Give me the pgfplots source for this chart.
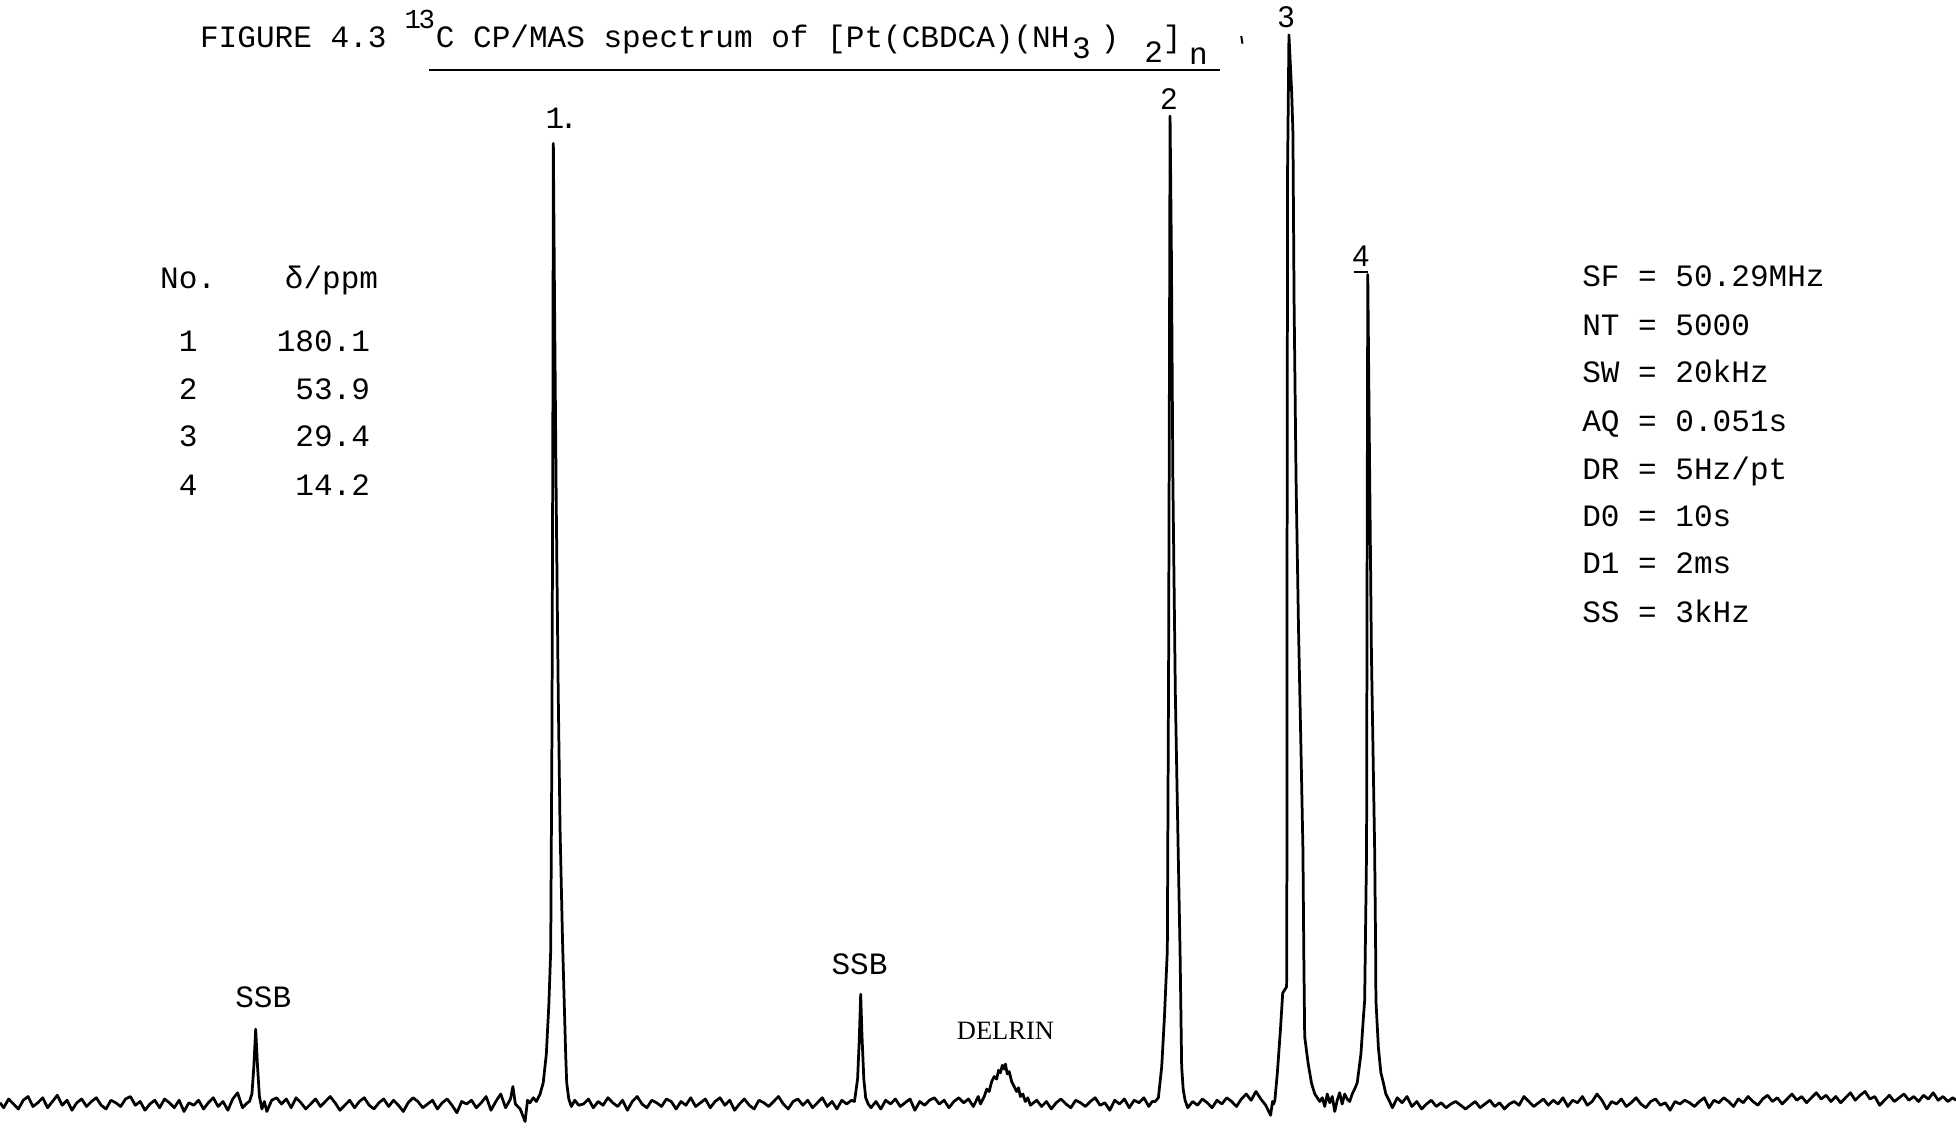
\documentclass[border=0pt]{standalone}
\usepackage{pgfplots}
\pgfplotsset{compat=1.18}
\usepackage{fontspec}
\setmainfont{Liberation Mono}
\newfontfamily\serfont{Liberation Serif}
\newfontfamily\sansfont{Liberation Sans}
\newcommand\tw{\fontsize{12.45}{15}\selectfont}
\newcommand\pl{\sansfont\fontsize{12}{14}\selectfont}
\begin{document}
\begin{tikzpicture}
\path[use as bounding box] (0,0) rectangle (784pt,455.5pt);
\begin{axis}[at={(0,0)}, anchor=south west, scale only axis,
  width=784pt, height=455.5pt,
  xmin=-107.67, xmax=293.77, ymin=-26, ymax=885,
  x dir=reverse, hide axis, clip=false]
\addplot[black, line width=1.1pt, line join=round] coordinates {
(293.77,1)(293,-3)(292,4)(291,0)(290,-4)(289,3)(288,6)(287,-2)(286,1)(285,5)(284,-3)(283,2)(282,7)(281,-1)(280,3)(279,-5)(278,1)(277,4)(276,-2)(275,2)(274,5)(273,-1)(272,-4)(271,3)(270,1)(269,-2)(268,4)(267,6)(266,-1)(265,2)(264,-5)(263,0)(262,3)(261,-3)(260,4)(259,1)(258,-3)(257,3)(256,-6)(255,1)(254,-1)(253,3)(252,-4)(251,1)(250,5)(249,-2)(248,2)(247,-5)(246,4)(245,9)(244,-3)(243,1)
(242.57,2)(242.06,8)(241.67,30)(241.29,60)(240.91,30)(240.52,6)(240.01,-4)(239.50,2)
(239,-6)(238,3)(237,5)(236,0)(235,4)(234,-3)(233,5)(232,1)(231,-4)(230,0)(229,4)(228,-2)(227,2)(226,6)(225,1)(224,-5)(223,-1)(222,3)(221,-3)(220,2)(219,5)(218,-1)(217,-4)(216,1)(215,4)(214,-2)(213,3)(212,-1)(211,-6)(210,1)(209,5)(208,2)(207,-3)(206,0)(205,3)(204,-4)(203,1)(202,4)(201,-1)(200,-7)(199,2)(198,0)(197,3)(196,-3)(195,1)(194,6)(193,-5)(192,2)(191,8)(190,-3)(189,4)(188.5,14)(188,0)(187,-4)(186,-14)(185.5,3)(185,1)(184.3,5)
(183.68,2)(182.92,8)(182.28,17)(181.64,40)(181.12,80)(180.74,123)(180.48,300)(180.30,550)(180.20,770)(179.95,640)(179.60,480)(179.20,330)(178.82,220)(178.31,130)(177.92,75)(177.67,40)(177.46,17)(177.03,4)
(176.5,-2)(175.8,3)(175,-1)(174,0)(173,4)(172,-3)(171,2)(170,-1)(169,5)(168,1)(167,-2)(166,3)(165,-5)(164,2)(163,6)(162,0)(161,-3)(160,3)(159,1)(158,-2)(157,4)(156,2)(155,-4)(154,2)(153,-1)(152,5)(151,-2)(150,1)(149,4)(148,-3)(147,2)(146,5)(145,-1)(144,3)(143,-5)(142,0)(141,4)(140,-1)(139,-4)(138,3)(137,1)(136,-2)(135,2)(134,6)(133,0)(132,-4)(131,2)(130,4)(129,-1)(128,3)(127,-3)(126,1)(125,5)(124,-2)(123,2)(122,-4)(121,3)(120,0)(119,3)
(118.40,2)(117.76,20)(117.43,50)(117.12,88)(116.86,55)(116.48,20)(116.10,5)(115.58,0)
(115,-3)(114,2)(113,-4)(112,3)(111,0)(110,4)(109,-2)(108,1)(107,4)(106,-5)(105,2)(104,-1)(103,3)(102,5)(101,0)(100,3)(99,-3)(98,2)(97,5)(96,1)(95,4)(94,-2)(93,6)
(92.54,0)(91.77,6)(91.26,12)(90.75,10)(90.24,18)(89.73,22)(89.21,20)(88.83,27)(88.45,25)(88.06,31)(87.68,28)(87.42,32)(87.04,24)(86.65,26)(86.14,18)(85.63,14)(85.12,10)(84.73,13)(84.35,6)(83.84,8)(83.33,2)(82.81,5)(82.30,-1)
(81,3)(80,-2)(79,2)(78,-4)(77,1)(76,4)(75,0)(74,-3)(73,3)(72,1)(71,-2)(70,2)(69,5)(68,-1)(67,1)(66,-5)(65,3)(64,0)(63,4)(62,-3)(61,3)(60,1)(59,5)(58,-2)(57.3,2)
(56.70,2)(56.03,5)(55.34,30)(54.78,70)(54.19,123)(53.93,350)(53.75,600)(53.63,792)(53.35,680)(53.05,500)(52.55,330)(52.09,230)(51.58,123)(51.32,50)(51.25,30)(50.94,12)(50.55,3)
(50,-3)(49,2)(48,-1)(47,4)(46,1)(45,-3)(44,3)(43,0)(42,5)(41,2)(40,-2)(39,4)(38,8)(37,3)(36,10)(35,4)(34,-1)(33,-9)(32.6,2)
(32.38,0)(32.12,3)(31.61,25)(30.97,60)(30.51,89)(29.71,94)(29.64,204)(29.61,450)(29.51,750)(29.23,857)(28.66,810)(28.41,778)(28.18,645)(27.77,500)(27.26,380)(26.74,280)(26.36,204)(26.18,120)(26.00,54)(25.31,33)(24.62,17)(23.93,8)(22.90,2)
(22.39,5)(21.88,-2)(21.37,8)(20.85,1)(20.34,6)(19.83,-6)(19.32,3)(18.82,9)(18.30,0)(17.79,8)(17.28,4)
(16.76,2)(16.25,8)(15.74,12)(15.22,17)(14.46,40)(13.94,70)(13.69,83)(13.30,204)(13.18,450)(13.05,665)(12.75,540)(12.30,360)(11.64,204)(11.43,120)(11.38,83)(10.87,45)(10.36,25)(9.85,17)(9.34,8)(8.57,2)
(8,-3)(7,5)(6,1)(5,6)(4,-2)(3,2)(2,-4)(1,0)(0,3)(-1,-2)(-2,1)(-3,-3)(-4,0)(-5,2)(-6,-1)(-7,-4)(-8,-1)(-9,2)(-10,-3)(-11,0)(-12,3)(-13,-2)(-14,1)(-15,-4)(-16,0)(-17,2)(-18,-1)(-19,6)(-20,2)(-21,-2)(-22,1)(-23,4)(-24,-1)(-25,3)(-26,0)(-27,5)(-28,-2)(-29,3)(-30,1)(-31,6)(-32,-1)(-33,2)(-34,8)(-35,3)(-36,-4)(-37,2)(-38,0)(-39,4)(-40,-2)(-41,1)(-42,5)(-43,0)(-44,-3)(-45,2)(-46,4)(-47,-1)(-48,1)(-49,-5)(-50,2)(-51,0)(-52,3)(-53,1)(-54,-2)(-55,2)(-56,5)(-57,-3)(-58,3)(-59,1)(-60,5)(-61,2)(-62,-2)(-63,4)(-64,1)(-65,6)(-66,2)(-67,-1)(-68,4)(-69,7)(-70,2)(-71,5)(-72,0)(-73,4)(-74,8)(-75,3)(-76,6)(-77,1)(-78,5)(-79,9)(-80,4)(-81,7)(-82,2)(-83,6)(-84,1)(-85,5)(-86,9)(-87,3)(-88,7)(-89,10)(-90,4)(-91,6)(-92,-1)(-93,3)(-94,7)(-95,2)(-96,5)(-97,8)(-98,3)(-99,6)(-100,2)(-101,7)(-102,4)(-103,9)(-104,3)(-105,6)(-106,2)(-107,5)(-107.67,3)
};
\end{axis}
\begin{scope}[x=0.5pt, y=-0.5pt, shift={(0,455.5pt)}]
% title
\node[anchor=base west, inner sep=0] at (160,38) {\tw FIGURE 4.3};
\node[anchor=base west, inner sep=0] at (324,23) {\fontsize{11}{13}\selectfont 1\kern-1pt 3};
\node[anchor=base west, inner sep=0] at (349,38) {\tw C CP/MAS spectrum of [Pt(CBDCA)(NH\kern1pt\raisebox{-4.5pt}{3}\kern4pt)\kern10pt\raisebox{-6pt}{2}]\kern3pt\raisebox{-7pt}{n}};
\draw[line width=0.8pt] (344,56) -- (978,56);
\draw[line width=0.8pt] (995,29) -- (996,35);
% peak labels
\node[anchor=base west, inner sep=0] at (437,103) {\tw 1\kern-2pt.};
\node[anchor=base, inner sep=0] at (937,88) {\pl 2};
\node[anchor=base, inner sep=0] at (1031,22) {\pl 3};
\node[anchor=base, inner sep=0] at (1091,214) {\pl 4};
\draw[line width=0.7pt] (1085,218) -- (1097,218);
% table
\node[anchor=base west, inner sep=0] at (128,231) {\tw No.};
\node[anchor=base west, inner sep=0] at (228,231) {\tw δ/ppm};
\node[anchor=base west, inner sep=0] at (143,282) {\tw 1};
\node[anchor=base west, inner sep=0] at (143,320) {\tw 2};
\node[anchor=base west, inner sep=0] at (143,358) {\tw 3};
\node[anchor=base west, inner sep=0] at (143,397) {\tw 4};
\node[anchor=base east, inner sep=0] at (297,282) {\tw 180.1};
\node[anchor=base east, inner sep=0] at (297,320) {\tw 53.9};
\node[anchor=base east, inner sep=0] at (297,358) {\tw 29.4};
\node[anchor=base east, inner sep=0] at (297,397) {\tw 14.2};
% parameters
\node[anchor=base west, inner sep=0] at (1268,230) {\tw SF = 50.29MHz};
\node[anchor=base west, inner sep=0] at (1268,269) {\tw NT = 5000};
\node[anchor=base west, inner sep=0] at (1268,307) {\tw SW = 20kHz};
\node[anchor=base west, inner sep=0] at (1268,346) {\tw AQ = 0.051s};
\node[anchor=base west, inner sep=0] at (1268,384) {\tw DR = 5Hz/pt};
\node[anchor=base west, inner sep=0] at (1268,422) {\tw D0 = 10s};
\node[anchor=base west, inner sep=0] at (1268,460) {\tw D1 = 2ms};
\node[anchor=base west, inner sep=0] at (1268,499) {\tw SS = 3kHz};
% band labels
\node[anchor=base, inner sep=0] at (211,808) {\tw SSB};
\node[anchor=base, inner sep=0] at (689,781) {\tw SSB};
\node[anchor=base, inner sep=0] at (806,833) {\serfont\fontsize{10.6}{12}\selectfont DELRIN};
\end{scope}
\end{tikzpicture}
\end{document}
